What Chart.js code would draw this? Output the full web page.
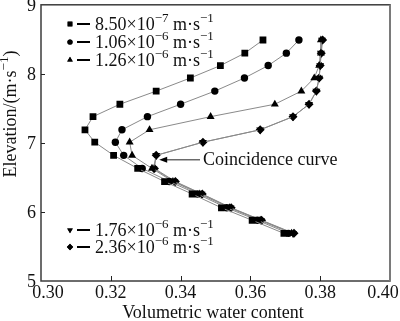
<!DOCTYPE html>
<html>
<head>
<meta charset="utf-8">
<script src="https://cdn.jsdelivr.net/npm/chart.js@4/dist/chart.umd.min.js"></script>
<style>
  html, body { margin: 0; padding: 0; background: #fff; }
  canvas { display: block; }
</style>
</head>
<body>
<canvas id="myChart" width="400" height="321"></canvas>
<script>
// elevations shared by every curve (top to bottom)
const elevation = [8.49, 8.30, 8.12, 7.94, 7.75, 7.56, 7.38, 7.19, 7.01, 6.82, 6.63, 6.44, 6.26, 6.06, 5.88, 5.69];

const water850 = [0.3636, 0.3584, 0.3514, 0.3428, 0.3330, 0.3226, 0.3149, 0.3126, 0.3154, 0.3208, 0.3277, 0.3354, 0.3433, 0.3517, 0.3605, 0.3696];
const water106 = [0.3739, 0.3703, 0.3651, 0.3583, 0.3498, 0.3400, 0.3305, 0.3232, 0.3213, 0.3237, 0.3290, 0.3368, 0.3448, 0.3532, 0.3620, 0.3709];
const water126 = [0.3802, 0.3802, 0.3797, 0.3783, 0.3746, 0.3670, 0.3486, 0.3311, 0.3254, 0.3261, 0.3318, 0.3378, 0.3455, 0.3540, 0.3628, 0.3718];
const water176 = [0.3805, 0.3802, 0.3800, 0.3797, 0.3789, 0.3768, 0.3722, 0.3628, 0.3464, 0.3330, 0.3322, 0.3382, 0.3460, 0.3543, 0.3630, 0.3722];
const water236 = [0.3807, 0.3803, 0.3800, 0.3797, 0.3789, 0.3768, 0.3722, 0.3628, 0.3464, 0.3330, 0.3325, 0.3385, 0.3462, 0.3545, 0.3632, 0.3725];

const xTicks = [0.30, 0.32, 0.34, 0.36, 0.38, 0.40];
const yTicks = [5, 6, 7, 8, 9];

// legend labels: [mantissa, exponent]
const seriesNames = [['8.50', '7'], ['1.06', '6'], ['1.26', '6'], ['1.76', '6'], ['2.36', '6']];

const FONT = "'Liberation Serif', 'Times New Roman', serif";

const toPoints = (xs) => xs.map((x, i) => ({ x: x, y: elevation[i] }));

const makeSet = (xs, style, radius, rotation) => ({
    data: toPoints(xs),
    borderColor: '#8a8a8a',
    borderWidth: 1,
    backgroundColor: '#000',
    pointBackgroundColor: '#000',
    pointBorderColor: '#000',
    pointBorderWidth: 0,
    pointStyle: style,
    pointRadius: radius,
    pointRotation: rotation || 0,
    showLine: true,
    tension: 0,
});

// draws text with superscript parts, parts = [[text, isSup], ...]
function drawRich(ctx, parts, x, y, size) {
    let cx = x;
    parts.forEach(([txt, sup]) => {
        if (sup) {
            ctx.font = Math.round(size * 0.72) + 'px ' + FONT;
            ctx.fillText(txt, cx, y - size * 0.42);
        } else {
            ctx.font = size + 'px ' + FONT;
            ctx.fillText(txt, cx, y);
        }
        cx += ctx.measureText(txt).width;
    });
    return cx - x;
}

function measureRich(ctx, parts, size) {
    let w = 0;
    parts.forEach(([txt, sup]) => {
        ctx.font = (sup ? Math.round(size * 0.72) : size) + 'px ' + FONT;
        w += ctx.measureText(txt).width;
    });
    return w;
}

const decorations = {
    id: 'decorations',
    beforeDraw(chart) {
        const ctx = chart.ctx;
        ctx.save();
        ctx.fillStyle = '#fff';
        ctx.fillRect(0, 0, chart.width, chart.height);
        ctx.restore();
    },
    afterDraw(chart) {
        const ctx = chart.ctx;
        const a = chart.chartArea;
        const xs = chart.scales.x;
        const ys = chart.scales.y;
        ctx.save();

        // frame
        ctx.strokeStyle = '#3c3c3c';
        ctx.lineWidth = 1.5;
        ctx.strokeRect(a.left, a.top, a.right - a.left, a.bottom - a.top);
        ctx.strokeStyle = '#7a7a7a';
        ctx.lineWidth = 2;
        ctx.beginPath();
        ctx.moveTo(a.right, a.top);
        ctx.lineTo(a.right, a.bottom);
        ctx.stroke();

        // inner ticks
        ctx.strokeStyle = '#222';
        ctx.lineWidth = 1;
        ctx.beginPath();
        xTicks.slice(1, -1).forEach(v => {
            const px = Math.round(xs.getPixelForValue(v)) + 0.5;
            ctx.moveTo(px, a.bottom);
            ctx.lineTo(px, a.bottom - 5);
        });
        yTicks.slice(1, -1).forEach(v => {
            const py = Math.round(ys.getPixelForValue(v)) + 0.5;
            ctx.moveTo(a.left, py);
            ctx.lineTo(a.left + 4, py);
        });
        ctx.stroke();

        // tick labels
        ctx.fillStyle = '#111';
        ctx.font = '18px ' + FONT;
        ctx.textBaseline = 'middle';
        ctx.textAlign = 'center';
        xTicks.forEach(v => {
            let px = xs.getPixelForValue(v);
            px = Math.min(Math.max(px, 48), 383);
            ctx.fillText(v.toFixed(2), px, a.bottom + 12);
        });
        ctx.textAlign = 'right';
        yTicks.forEach(v => {
            ctx.fillText(String(v), a.left - 5, ys.getPixelForValue(v) + 1);
        });

        // axis titles
        ctx.textAlign = 'left';
        ctx.textBaseline = 'alphabetic';
        const xTitle = [['Volumetric water content', false]];
        const xw = measureRich(ctx, xTitle, 18);
        drawRich(ctx, xTitle, 213 - xw / 2, 318, 18);

        const yTitle = [['Elevation/(m·s', false], ['−1', true], [')', false]];
        const yw = measureRich(ctx, yTitle, 18);
        ctx.save();
        ctx.translate(16, 114);
        ctx.rotate(-Math.PI / 2);
        drawRich(ctx, yTitle, -yw / 2, 0, 18);
        ctx.restore();

        // legend
        const rows = [24, 42, 60, 230, 247];
        const metas = [0, 1, 2, 3, 4].map(i => chart.getDatasetMeta(i));
        rows.forEach((ry, i) => {
            const ds = chart.data.datasets[i];
            ctx.fillStyle = '#000';
            Chart.helpers.drawPoint(ctx, {
                pointStyle: ds.pointStyle,
                rotation: ds.pointRotation,
                radius: ds.pointRadius * 0.7,
                borderWidth: 0,
            }, 70, ry);
            ctx.fill();
            ctx.fillRect(77, ry - 1, 13, 2);
            const [m, e] = seriesNames[i];
            ctx.fillStyle = '#111';
            drawRich(ctx, [[m + '×10', false], ['−' + e, true], [' m·s', false], ['−1', true]], 95, ry + 6, 18);
        });

        // coincidence annotation, pointing at the 2.36 curve
        const target = metas[4].data[9];
        const tipX = target.x + 3;
        const tipY = target.y + 4;
        ctx.strokeStyle = '#222';
        ctx.lineWidth = 1;
        ctx.beginPath();
        ctx.moveTo(200, tipY + 0.5);
        ctx.lineTo(tipX + 6, tipY + 0.5);
        ctx.stroke();
        ctx.fillStyle = '#000';
        ctx.beginPath();
        ctx.moveTo(tipX, tipY + 0.5);
        ctx.lineTo(tipX + 8, tipY - 2.5);
        ctx.lineTo(tipX + 8, tipY + 3.5);
        ctx.closePath();
        ctx.fill();
        ctx.fillStyle = '#111';
        ctx.font = '18px ' + FONT;
        ctx.textBaseline = 'middle';
        ctx.fillText('Coincidence curve', 203, tipY + 1);

        ctx.restore();
    }
};

const myChart = new Chart(document.getElementById('myChart').getContext('2d'), {
    type: 'scatter',
    data: {
        datasets: [
            makeSet(water850, 'rect', 4.8),
            makeSet(water106, 'circle', 3.7),
            makeSet(water126, 'triangle', 4.6),
            makeSet(water176, 'triangle', 4.6, 180),
            makeSet(water236, 'rectRot', 4.5),
        ]
    },
    options: {
        responsive: false,
        animation: false,
        layout: { padding: { left: 41, right: 10, top: 3, bottom: 40 } },
        plugins: {
            legend: { display: false },
            tooltip: { enabled: false },
        },
        scales: {
            x: { type: 'linear', min: 0.30, max: 0.40, display: false },
            y: { type: 'linear', min: 5, max: 9, display: false },
        },
    },
    plugins: [decorations],
});
</script>
</body>
</html>
